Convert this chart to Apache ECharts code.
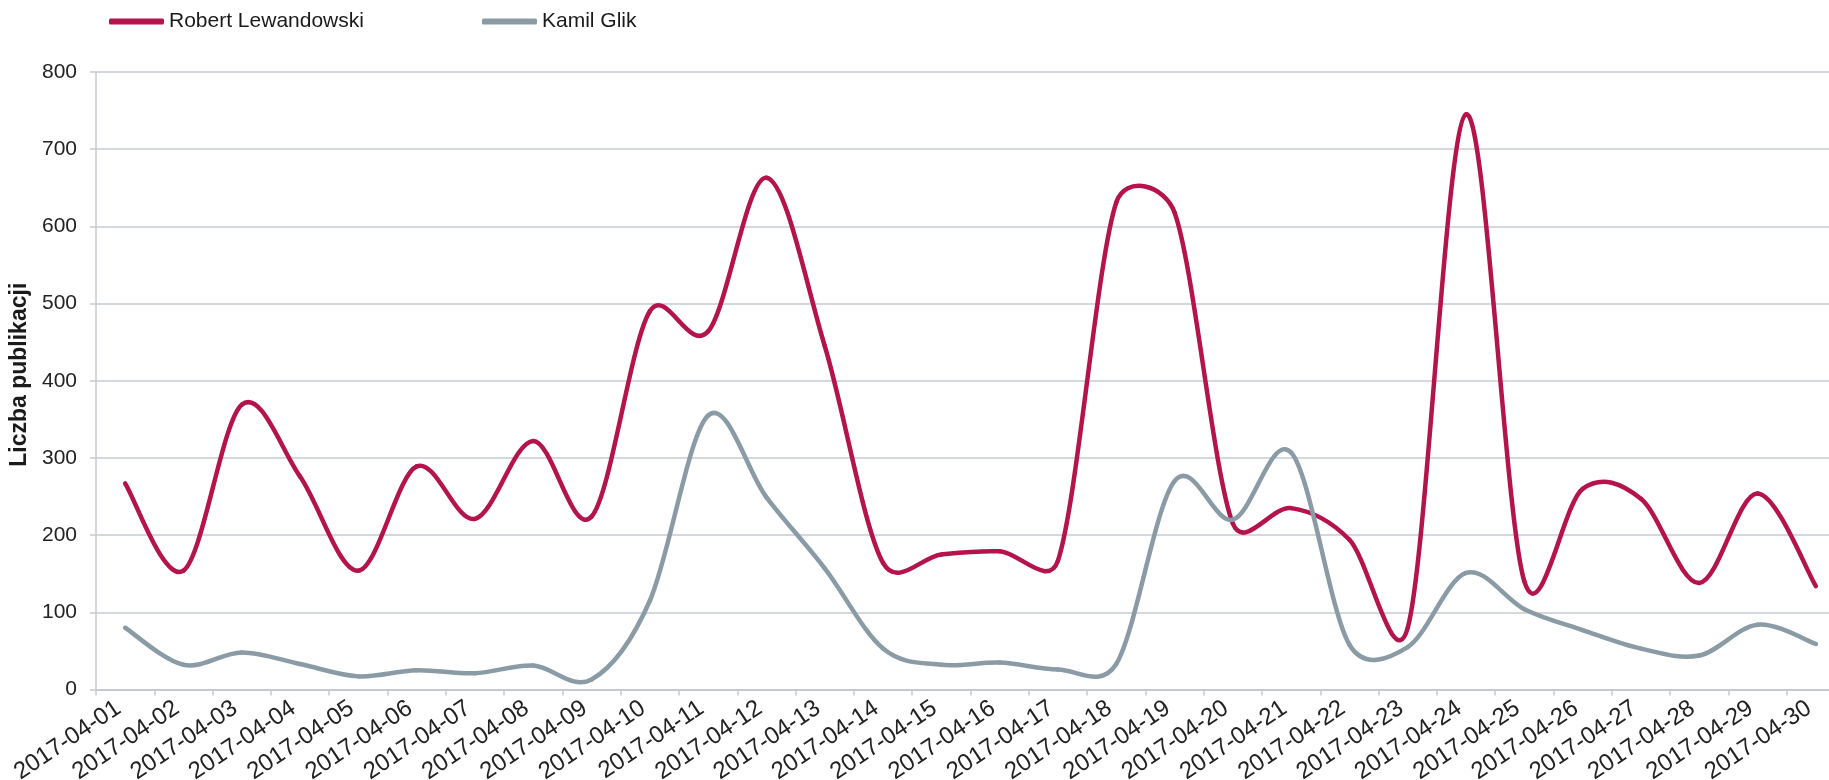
<!DOCTYPE html>
<html>
<head>
<meta charset="utf-8">
<script src="https://cdn.jsdelivr.net/npm/echarts@6/dist/echarts.min.js"></script>
<style>
html,body{margin:0;padding:0;background:#fff;}
#chart{width:1829px;height:780px;}
</style>
</head>
<body>
<div id="chart"></div>
<script>
var categories = ["2017-04-01","2017-04-02","2017-04-03","2017-04-04","2017-04-05","2017-04-06","2017-04-07","2017-04-08","2017-04-09","2017-04-10","2017-04-11","2017-04-12","2017-04-13","2017-04-14","2017-04-15","2017-04-16","2017-04-17","2017-04-18","2017-04-19","2017-04-20","2017-04-21","2017-04-22","2017-04-23","2017-04-24","2017-04-25","2017-04-26","2017-04-27","2017-04-28","2017-04-29","2017-04-30"];
var lewandowski = [267,154,369,276,154,289,221,322,224,490,464,663,445,164,175,179,167,631,618,215,235,194,80,745,140,260,247,138,254,134];
var glik = [80,32,48,33,17,25,21,31,13,115,355,249,157,53,32,35,26,33,270,220,307,58,55,151,104,77,53,44,84,59];
var seriesNames = ["Robert Lewandowski","Kamil Glik"];
var yAxisTitle = "Liczba publikacji";

var FONT = "Liberation Sans, Arial, sans-serif";
var RED = "#b5134b";
var GRAY = "#8a9ba5";
var GRID = "#c6cacf";

// Excel-like smoothed segment between point i and i+1, computed from axis coordinates
function smoothRenderer(values, color) {
  return function (params, api) {
    var i = params.dataIndex;
    var n = values.length;
    if (i >= n - 1) return null;
    function P(k) { k = Math.max(0, Math.min(n - 1, k)); return api.coord([k, values[k]]); }
    var p0 = P(i - 1), p1 = P(i), p2 = P(i + 1), p3 = P(i + 2);
    var seg = Math.hypot(p2[0] - p1[0], p2[1] - p1[1]);
    var t1x = p2[0] - p0[0], t1y = p2[1] - p0[1], l1 = Math.hypot(t1x, t1y);
    var t2x = p3[0] - p1[0], t2y = p3[1] - p1[1], l2 = Math.hypot(t2x, t2y);
    var f1 = l1 ? Math.min(1 / 6, 0.5 * seg / l1) : 0;
    var f2 = l2 ? Math.min(1 / 6, 0.5 * seg / l2) : 0;
    return {
      type: "bezierCurve",
      shape: {
        x1: p1[0], y1: p1[1], x2: p2[0], y2: p2[1],
        cpx1: p1[0] + t1x * f1, cpy1: p1[1] + t1y * f1,
        cpx2: p2[0] - t2x * f2, cpy2: p2[1] - t2y * f2
      },
      style: {stroke: color, lineWidth: 4.5, fill: null, lineCap: "round", lineJoin: "round"},
      silent: true
    };
  };
}
function pairs(values) { return values.map(function (v, i) { return [i, v]; }); }

var chart = echarts.init(document.getElementById("chart"), null, {renderer: "canvas"});
chart.setOption({
  animation: false,
  backgroundColor: "#fff",
  legend: [
    {
      data: [seriesNames[0]], left: 104, top: 6,
      icon: "roundRect", itemWidth: 55, itemHeight: 6,
      textStyle: {fontFamily: FONT, fontSize: 21, color: "#1a1a1a"}
    },
    {
      data: [seriesNames[1]], left: 477, top: 6,
      icon: "roundRect", itemWidth: 55, itemHeight: 6,
      textStyle: {fontFamily: FONT, fontSize: 21, color: "#1a1a1a"}
    }
  ],
  grid: {left: 96, right: -16, top: 72, bottom: 90.5, containLabel: false, outerBoundsMode: "none"},
  xAxis: {
    type: "category",
    data: categories,
    boundaryGap: true,
    axisLine: {lineStyle: {color: GRID, width: 2}},
    axisTick: {show: true, length: 6, lineStyle: {color: GRID, width: 1.5}},
    axisLabel: {rotate: 34, interval: 0, margin: 12, fontFamily: FONT, fontSize: 24, color: "#222", padding: [0, 8, 0, 0]},
    splitLine: {show: false}
  },
  yAxis: {
    type: "value",
    min: 0, max: 800, interval: 100,
    name: yAxisTitle,
    nameLocation: "middle",
    nameGap: 57,
    nameTextStyle: {fontFamily: FONT, fontSize: 23, fontWeight: "bold", color: "#1a1a1a", padding: [0, 0, 0, 12]},
    axisLine: {show: true, lineStyle: {color: GRID, width: 1.5}},
    axisTick: {show: true, length: 6, lineStyle: {color: GRID, width: 1.5}},
    axisLabel: {margin: 19, fontFamily: FONT, fontSize: 21, color: "#222"},
    splitLine: {show: true, lineStyle: {color: GRID, width: 1.5}}
  },
  series: [
    {
      name: seriesNames[0], type: "custom", data: pairs(lewandowski),
      encode: {x: 0, y: 1}, clip: false,
      itemStyle: {color: RED},
      renderItem: smoothRenderer(lewandowski, RED)
    },
    {
      name: seriesNames[1], type: "custom", data: pairs(glik),
      encode: {x: 0, y: 1}, clip: false,
      itemStyle: {color: GRAY},
      renderItem: smoothRenderer(glik, GRAY)
    }
  ]
});
</script>
</body>
</html>
